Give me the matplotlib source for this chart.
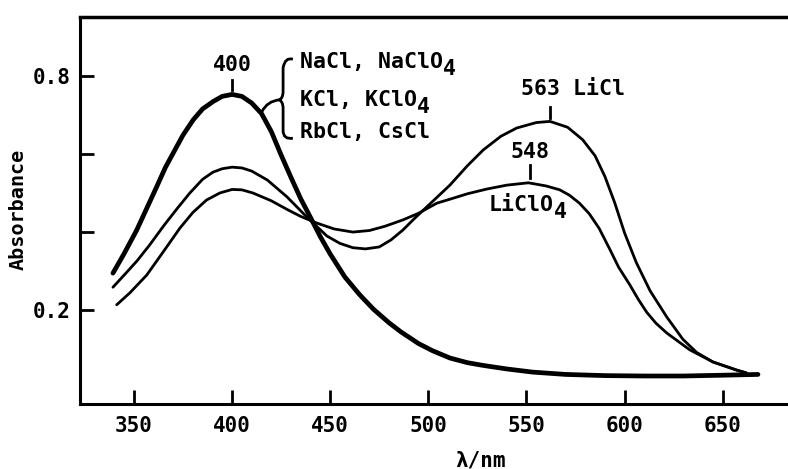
import matplotlib
matplotlib.use("Agg")
import matplotlib.pyplot as plt
from matplotlib.path import Path
from matplotlib.patches import PathPatch

plt.rcParams['font.family'] = ['DejaVu Sans Mono']
plt.rcParams['font.weight'] = 'bold'

# thick curve: NaCl, NaClO4, KCl, KClO4, RbCl, CsCl
wl_salt = [339.3, 345, 351.4, 356, 361.6, 366, 370, 375, 380.2, 385, 390.4, 395, 400, 405,
           410, 415, 420, 425, 430, 435, 440, 445, 450, 457.5, 465, 472, 480, 486, 495,
           502, 511, 520, 528, 540, 553, 570, 590, 610, 630, 650, 668]
abs_salt = [0.295, 0.345, 0.405, 0.455, 0.516, 0.565, 0.602, 0.648, 0.687, 0.715, 0.734,
            0.747, 0.752, 0.747, 0.73, 0.703, 0.657, 0.597, 0.54, 0.485, 0.437, 0.388,
            0.344, 0.285, 0.24, 0.203, 0.168, 0.145, 0.115, 0.097, 0.078, 0.066, 0.059,
            0.05, 0.042, 0.036, 0.033, 0.032, 0.032, 0.034, 0.036]

# LiCl
wl_licl = [339.3, 345, 351.5, 358, 365, 372, 378.5, 385, 390.2, 395, 400, 405, 410, 418,
           428, 438, 448.3, 455, 461.6, 468, 475, 481, 487, 493, 500, 511, 520, 528, 537,
           545, 555, 562, 571, 578.7, 585, 590, 595, 600, 606, 613, 621.5, 629.7,
           636.8, 645, 657.2, 662]
abs_licl = [0.259, 0.29, 0.326, 0.367, 0.415, 0.46, 0.50, 0.535, 0.553, 0.562, 0.566,
            0.564, 0.556, 0.533, 0.49, 0.439, 0.39, 0.371, 0.36, 0.357, 0.362, 0.38,
            0.405, 0.435, 0.468, 0.52, 0.57, 0.61, 0.645, 0.666, 0.68, 0.683, 0.668,
            0.636, 0.595, 0.542, 0.475, 0.398, 0.322, 0.25, 0.183, 0.126, 0.092, 0.068,
            0.047, 0.04]

# LiClO4
wl_liclo4 = [341.2, 348, 356.5, 365, 373.4, 380, 387, 393.8, 400, 405, 410.6, 420, 428,
             435, 443.2, 452, 461.6, 470, 478, 487, 495, 500, 504.4, 511, 520, 529.8, 540,
             551, 560, 567, 572, 577, 582, 587, 592.5, 597, 602.7, 607, 611.3, 616, 621.5,
             633.2, 645, 657.2, 662]
abs_liclo4 = [0.214, 0.245, 0.29, 0.35, 0.41, 0.45, 0.482, 0.50, 0.509, 0.508, 0.50, 0.48,
              0.458, 0.44, 0.423, 0.408, 0.40, 0.404, 0.415, 0.431, 0.448, 0.462, 0.474,
              0.484, 0.498, 0.51, 0.52, 0.526, 0.518, 0.508, 0.494, 0.474, 0.447, 0.41,
              0.356, 0.31, 0.265, 0.228, 0.195, 0.167, 0.142, 0.099, 0.068, 0.047, 0.04]

xticks = [350, 400, 450, 500, 550, 600, 650]
yticks = [0.2, 0.4, 0.6, 0.8]
ytick_labels = ['0.2', '', '', '0.8']

fig = plt.figure(figsize=(7.88, 4.69), dpi=100)
ax = fig.add_axes([0.1015, 0.1386, 0.8985, 0.8252])

ax.plot(wl_salt, abs_salt, color='black', lw=3.4, solid_capstyle='round')
ax.plot(wl_licl, abs_licl, color='black', lw=2.0, solid_capstyle='round')
ax.plot(wl_liclo4, abs_liclo4, color='black', lw=2.0, solid_capstyle='round')

ax.set_xlim(322.5, 683.3)
ax.set_ylim(-0.0396, 0.950)
ax.set_xticks(xticks)
ax.set_yticks(yticks)
ax.set_yticklabels(ytick_labels)
ax.tick_params(direction='in', length=10, width=2, labelsize=15)
ax.tick_params(axis='x', pad=9)
ax.tick_params(axis='y', pad=7)
ax.spines['right'].set_visible(False)
for s in ['left', 'bottom']:
    ax.spines[s].set_linewidth(2.2)
ax.spines['top'].set_linewidth(2.5)

fig.text(480 / 788, 1 - 460 / 469, 'λ/nm', fontsize=15, ha='center', va='center')
fig.text(18 / 788, 1 - 209 / 469, 'Absorbance', fontsize=14.5, rotation=90,
         ha='center', va='center')

fs = 15.5
char_w = 0.602 * fs


def label(x, y, s, sub=None):
    ax.text(x, y, s, fontsize=fs, ha='left', va='center')
    if sub:
        ax.annotate(sub, (x, y), xytext=(len(s) * char_w, -0.32 * fs),
                    textcoords='offset points', fontsize=fs, ha='left', va='center')


# peak markers
ax.plot([400, 400], [0.763, 0.789], color='black', lw=2)
ax.text(400, 0.827, '400', fontsize=fs, ha='center', va='center')
ax.plot([562, 562], [0.692, 0.72], color='black', lw=2)
label(547, 0.766, '563 LiCl')
ax.plot([551.7, 551.7], [0.538, 0.571], color='black', lw=2)
ax.text(551.7, 0.605, '548', fontsize=fs, ha='center', va='center')
label(530.9, 0.469, 'LiClO', '4')

# bracket labels
label(434.6, 0.835, 'NaCl, NaClO', '4')
label(434.6, 0.738, 'KCl, KClO', '4')
label(434.6, 0.656, 'RbCl, CsCl')

verts = [(431, 0.842), (427, 0.848), (426, 0.82),
         (426, 0.76), (426, 0.742), (424, 0.738),
         (426, 0.734), (426, 0.716),
         (426, 0.66), (426, 0.636), (431, 0.640)]
codes = [Path.MOVETO, Path.CURVE3, Path.CURVE3,
         Path.LINETO, Path.CURVE3, Path.CURVE3,
         Path.CURVE3, Path.CURVE3,
         Path.LINETO, Path.CURVE3, Path.CURVE3]
ax.add_patch(PathPatch(Path(verts, codes), fill=False, lw=2, ec='black'))
conn = Path([(424, 0.738), (418, 0.735), (415.2, 0.708)],
            [Path.MOVETO, Path.CURVE3, Path.CURVE3])
ax.add_patch(PathPatch(conn, fill=False, lw=2, ec='black'))

fig.savefig('out.png', dpi=100)
